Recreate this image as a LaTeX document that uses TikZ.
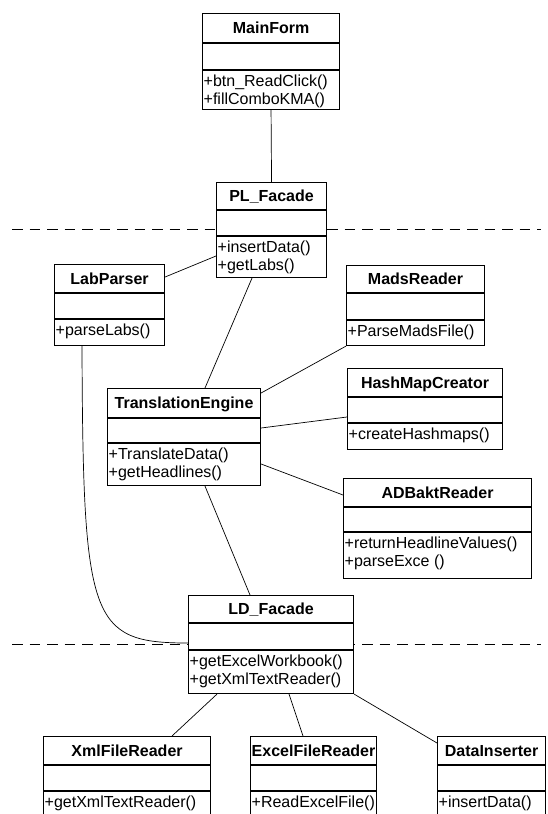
\documentclass[tikz,border=0pt]{standalone}
\usepackage{fontspec}
\setmainfont{Liberation Sans}
\usetikzlibrary{calc}

\tikzset{
  classbox/.style={draw=black, line width=1.1pt, fill=white, inner sep=0pt, rectangle},
  compline/.style={draw=black, line width=1.1pt},
  classtitle/.style={font=\fontsize{16}{18}\selectfont\bfseries, inner sep=0pt, anchor=base},
  method/.style={font=\fontsize{16}{18}\selectfont, inner sep=0pt, anchor=base west},
  assoc/.style={draw=black, line width=0.7pt},
  layer/.style={draw=black, line width=1pt, dash pattern=on 10.5pt off 7pt},
}

% #1 name, #2 left x, #3 top y, #4 width, #5 header height,
% #6 attribute height, #7 total height, #8 class name, #9 operations
\newcommand\umlclass[9]{%
  \node[classbox, minimum width=#4pt, minimum height=#7pt, anchor=north west] (#1) at (#2,#3) {};
  \draw[compline] ([yshift=-#5pt]#1.north west) -- ([yshift=-#5pt]#1.north east);
  \draw[compline] ([yshift=-#5pt-#6pt]#1.north west) -- ([yshift=-#5pt-#6pt]#1.north east);
  \node[classtitle] (#1-title) at ($(#1.north)+(0,#5/2+5.5)$) {#8};
  \foreach \m [count=\i] in {#9} {%
    \node[method] (#1-m\i) at ($(#1.north west)+(1.5,#5+#6+16+18*\i-18)$) {\m};}%
}

\begin{document}
\begin{tikzpicture}[x=1pt, y=-1pt]
\useasboundingbox (0,0) rectangle (548,814);
\clip (0,0) rectangle (548,814);

% layer boundaries
\coordinate (upper-l) at (12,229.5);
\coordinate (upper-r) at (541,229.5);
\coordinate (lower-l) at (12,644);
\coordinate (lower-r) at (541,644);
\draw[layer] (upper-l) -- (upper-r);
\draw[layer] (lower-l) -- (lower-r);

% classes
\umlclass{main}{202}{13}{137}{30}{27}{96}{MainForm}{+btn\_ReadClick(),+fillComboKMA()}
\umlclass{pl}{216}{182}{110}{28}{26}{95}{PL\_Facade}{+insertData(),+getLabs()}
\umlclass{lab}{54}{264}{110}{29}{26}{81}{LabParser}{+parseLabs()}
\umlclass{mads}{346}{265}{138}{28}{27}{80}{MadsReader}{+ParseMadsFile()}
\umlclass{hash}{347}{368}{155}{29}{26}{81}{HashMapCreator}{+createHashmaps()}
\umlclass{te}{107}{388}{153}{30}{25}{97}{TranslationEngine}{+TranslateData(),+getHeadlines()}
\umlclass{ad}{343}{478}{188}{29}{25}{100}{ADBaktReader}{+returnHeadlineValues(),+parseExce ()}
\umlclass{ld}{188}{595}{165}{28}{27}{98}{LD\_Facade}{+getExcelWorkbook(),+getXmlTextReader()}
\umlclass{xml}{43}{736}{167}{29}{26}{110}{XmlFileReader}{+getXmlTextReader()}
\umlclass{excel}{250}{736}{126}{29}{26}{110}{ExcelFileReader}{+ReadExcelFile()}
\umlclass{di}{437}{736}{108}{29}{26}{110}{DataInserter}{+insertData()}

% associations
\draw[assoc] (main.south) -- (pl.north);
\draw[assoc] ($(lab.north east)+(0,13)$) -- ($(pl.north west)+(0,74)$);
\draw[assoc] ($(pl.south west)+(36,0)$) -- ($(te.north west)+(98,0)$);
\draw[assoc] (mads.south west) -- ($(te.north east)+(0,5)$);
\draw[assoc] ($(hash.north west)+(0,49)$) -- ($(te.north east)+(0,40)$);
\draw[assoc] ($(ad.north west)+(0,17)$) -- ($(te.north east)+(0,76)$);
\draw[assoc] ($(te.south west)+(98,0)$) -- ($(ld.north west)+(62,0)$);
\draw[assoc] ($(lab.south west)+(28,0)$)
  .. controls ($(lab.south west)+(29,275)$) and ($(ld.north west)+(-98,48)$)
  .. ($(ld.north west)+(0,48)$);
\draw[assoc] ($(ld.south west)+(29,0)$) -- ($(xml.north west)+(129,0)$);
\draw[assoc] ($(ld.south west)+(101,0)$) -- ($(excel.north west)+(53,0)$);
\draw[assoc] (ld.south east) -- ($(di.north west)+(0,7)$);
\end{tikzpicture}
\end{document}
